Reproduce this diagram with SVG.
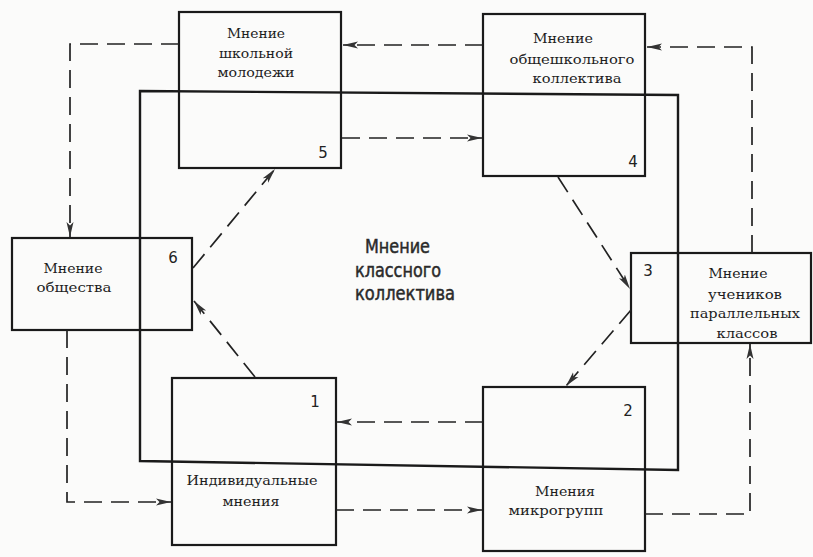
<svg xmlns="http://www.w3.org/2000/svg" width="813" height="557" viewBox="0 0 813 557">
<defs>
<marker id="ah" markerUnits="userSpaceOnUse" markerWidth="18" markerHeight="10" refX="15" refY="4.5" orient="auto">
<path d="M0,1 L15,4.5 L0,8 L3.5,4.5 z" fill="#333"/>
</marker>
<style>
.box{fill:none;stroke:#1a1a1a;stroke-width:2.2}
.frame{fill:none;stroke:#1a1a1a;stroke-width:2.4}
.t{font-family:"DejaVu Serif","Liberation Serif",serif;font-size:12.5px;fill:#1e1e1e;text-anchor:middle}
.n{font-family:"DejaVu Sans","Liberation Sans",sans-serif;font-size:15px;fill:#222;text-anchor:middle}
.c{font-family:"DejaVu Sans","Liberation Sans",sans-serif;font-size:19px;fill:#2a2a2a;stroke:#2a2a2a;stroke-width:0.5}
.d{fill:none;stroke:#222;stroke-width:1.7;stroke-dasharray:18 9;marker-end:url(#ah)}
</style>
</defs>
<rect width="813" height="557" fill="#fbfbfa"/>
<g id="class-collective">
<polygon class="frame" points="140,91 678,95 678,470 140,461"/>
<text class="c" x="365" y="253" textLength="65" lengthAdjust="spacingAndGlyphs">Мнение</text>
<text class="c" x="355" y="277" textLength="86" lengthAdjust="spacingAndGlyphs">классного</text>
<text class="c" x="355" y="300" textLength="100" lengthAdjust="spacingAndGlyphs">коллектива</text>
</g>
<g id="node5">
<rect class="box" x="179" y="12" width="162" height="156"/>
<text class="t" x="256" y="38" textLength="58" lengthAdjust="spacingAndGlyphs">Мнение</text>
<text class="t" x="256" y="58" textLength="74" lengthAdjust="spacingAndGlyphs">школьной</text>
<text class="t" x="256" y="77" textLength="77" lengthAdjust="spacingAndGlyphs">молодежи</text>
<text class="n" x="323" y="158">5</text>
</g>
<g id="node4">
<rect class="box" x="483" y="14" width="162" height="162"/>
<text class="t" x="563" y="43" textLength="60" lengthAdjust="spacingAndGlyphs">Мнение</text>
<text class="t" x="572" y="64" textLength="125" lengthAdjust="spacingAndGlyphs">общешкольного</text>
<text class="t" x="577" y="83" textLength="89" lengthAdjust="spacingAndGlyphs">коллектива</text>
<text class="n" x="633" y="167">4</text>
</g>
<g id="node6">
<rect class="box" x="12" y="238" width="180" height="92"/>
<text class="t" x="73" y="273" textLength="59" lengthAdjust="spacingAndGlyphs">Мнение</text>
<text class="t" x="74" y="292" textLength="75" lengthAdjust="spacingAndGlyphs">общества</text>
<text class="n" x="173" y="263">6</text>
</g>
<g id="node3">
<rect class="box" x="631" y="253" width="180" height="90"/>
<text class="t" x="738" y="278" textLength="59" lengthAdjust="spacingAndGlyphs">Мнение</text>
<text class="t" x="745" y="299" textLength="74" lengthAdjust="spacingAndGlyphs">учеников</text>
<text class="t" x="745" y="318" textLength="110" lengthAdjust="spacingAndGlyphs">параллельных</text>
<text class="t" x="747" y="338" textLength="61" lengthAdjust="spacingAndGlyphs">классов</text>
<text class="n" x="648" y="276">3</text>
</g>
<g id="node1">
<rect class="box" x="172" y="378" width="164" height="167"/>
<text class="t" x="252" y="485" textLength="131" lengthAdjust="spacingAndGlyphs">Индивидуальные</text>
<text class="t" x="251" y="506" textLength="57" lengthAdjust="spacingAndGlyphs">мнения</text>
<text class="n" x="315" y="407">1</text>
</g>
<g id="node2">
<rect class="box" x="483" y="387" width="162" height="164"/>
<text class="t" x="565" y="496" textLength="60" lengthAdjust="spacingAndGlyphs">Мнения</text>
<text class="t" x="556" y="515" textLength="95" lengthAdjust="spacingAndGlyphs">микрогрупп</text>
<text class="n" x="628" y="416">2</text>
</g>
<g id="connectors">
<path class="d" d="M342,138 L482,138"/>
<path class="d" d="M483,45 L343,45"/>
<path class="d" d="M179,44 L70,44 L70,237"/>
<path class="d" d="M67,330 L67,502 L171,502"/>
<path class="d" d="M336,510 L482,510"/>
<path class="d" d="M645,514 L750,514 L750,344"/>
<path class="d" d="M752,253 L752,47 L647,47"/>
<path class="d" d="M558,177 L630,289"/>
<path class="d" d="M631,310 L566,386"/>
<path class="d" d="M483,422 L337,422"/>
<path class="d" d="M255,377 L194,301"/>
<path class="d" d="M193,268 L275,169"/>
</g>
</svg>
